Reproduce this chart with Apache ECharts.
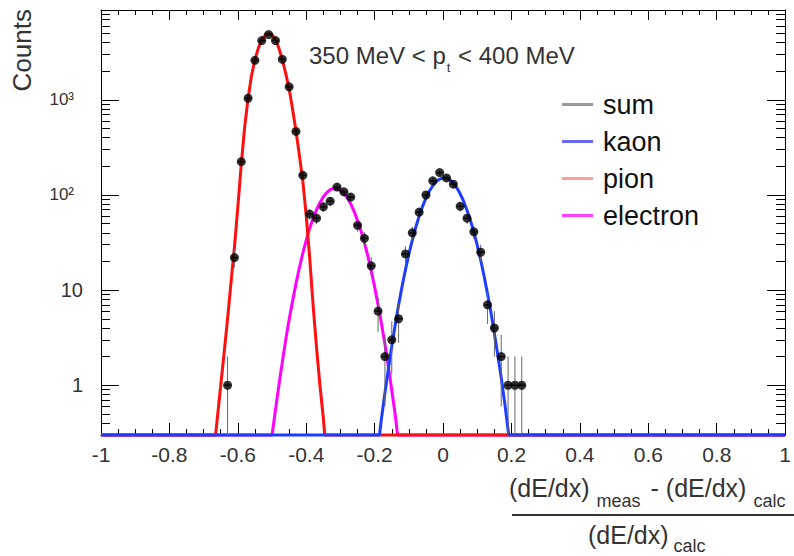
<!DOCTYPE html>
<html>
<head>
<meta charset="utf-8">
<script src="https://cdn.jsdelivr.net/npm/echarts@6/dist/echarts.min.js"></script>
<style>
  html, body { margin: 0; padding: 0; background: #ffffff; }
  #chart { width: 794px; height: 556px; }
</style>
</head>
<body>
<div id="chart"></div>
<script>
// ---------- data ----------
const binCenters = [-0.63,-0.61,-0.59,-0.57,-0.55,-0.53,-0.51,-0.49,-0.47,-0.45,-0.43,-0.41,-0.39,-0.37,-0.35,-0.33,-0.31,-0.29,-0.27,-0.25,-0.23,-0.21,-0.19,-0.17,-0.15,-0.13,-0.11,-0.09,-0.07,-0.05,-0.03,-0.01,0.01,0.03,0.05,0.07,0.09,0.11,0.13,0.15,0.17,0.19,0.21,0.23];
const counts     = [1,22,224,1040,2600,4200,4850,4200,2670,1370,466,161,63,57,75,86,121,108,95,48,35,18,6,2,3,5,24,40,66,100,141,172,151,130,76,57,41,25,7,4,2,1,1,1];
const countErrs  = [1,4.7,15,32,51,65,70,65,52,37,22,13,8,7.5,8.7,9.3,11,10.4,9.7,6.9,5.9,4.2,2.4,1.4,1.7,2.2,4.9,6.3,8.1,10,11.9,13.1,12.3,11.4,8.7,7.5,6.4,5,2.6,2,1.4,1,1,1];
const binHalfWidth = 0.01;

const pionX = [-1,-0.665,-0.65,-0.64,-0.63,-0.62,-0.61,-0.60,-0.59,-0.58,-0.57,-0.56,-0.55,-0.54,-0.53,-0.52,-0.51,-0.50,-0.49,-0.48,-0.47,-0.46,-0.45,-0.44,-0.43,-0.42,-0.41,-0.40,-0.39,-0.38,-0.37,-0.36,-0.35,-0.346,1];
const pionY = [0.3,0.3,1,2.2,5,12,28,75,210,520,1040,1800,2650,3500,4250,4800,5000,4850,4300,3500,2650,1900,1300,800,470,260,140,60,22,7,2.5,1,0.45,0.3,0.3];

const electronX = [-1,-0.50,-0.49,-0.48,-0.47,-0.46,-0.45,-0.44,-0.43,-0.42,-0.41,-0.40,-0.39,-0.38,-0.37,-0.36,-0.35,-0.34,-0.33,-0.32,-0.31,-0.30,-0.29,-0.28,-0.27,-0.26,-0.25,-0.24,-0.23,-0.22,-0.21,-0.20,-0.19,-0.18,-0.17,-0.16,-0.15,-0.14,-0.133,1];
const electronY = [0.3,0.3,0.55,1.0,1.75,3.0,4.9,7.7,11.7,17.3,24.5,33.6,44.6,57,70,83,96,106,114,117,117,112,104,93.5,81,67,54,42,31.6,22.9,16,10.8,7.0,4.4,2.7,1.57,0.89,0.49,0.3,0.3];

const kaonX = [-1,-0.186,-0.18,-0.17,-0.16,-0.15,-0.14,-0.13,-0.12,-0.11,-0.10,-0.09,-0.08,-0.07,-0.06,-0.05,-0.04,-0.03,-0.02,-0.01,0.00,0.01,0.02,0.03,0.04,0.05,0.06,0.07,0.08,0.09,0.10,0.11,0.12,0.13,0.14,0.15,0.16,0.17,0.18,0.192,1];
const kaonY = [0.3,0.3,0.45,0.83,1.48,2.57,4.3,7.0,10.9,16.4,23.9,33.6,45.6,59.8,75.9,93,110,125,138,147,151,150,144,133,119,103,86,69,54,40.5,29.5,20.6,14.0,9.1,5.8,3.5,2.07,1.2,0.66,0.3,0.3];

const sumX = [];
const sumY = [];

const legendNames = ['sum', 'kaon', 'pion', 'electron'];
const yMajorTicks = [1, 10, 100, 1000];
const yTickLabels = ['1', '10', '10²', '10³'];
const yMinorTicks = [0.4,0.5,0.6,0.7,0.8,0.9,2,3,4,5,6,7,8,9,20,30,40,50,60,70,80,90,200,300,400,500,600,700,800,900,2000,3000,4000,5000,6000,7000,8000];
const xMin = -1, xMax = 1, xStep = 0.2;
const yMin = 0.3, yMax = 8800;
const titleText = '350 MeV < p{sub|t} < 400 MeV';
const yTitle = 'Counts';
const xTitleNum = '(dE/dx){sub|meas} - (dE/dx){sub|calc}';
const xTitleDen = '(dE/dx){sub|calc}';

// ---------- chart ----------
const FONT = 'Liberation Sans';
const zip = (xs, ys) => xs.map((x, i) => [x, ys[i]]);

const chart = echarts.init(document.getElementById('chart'), null, { renderer: 'svg' });

function xAxisDef(pos, tickLen, showLabel) {
  return {
    type: 'value', position: pos, min: xMin, max: xMax, interval: xStep,
    axisLine: { show: true, onZero: false, lineStyle: { color: '#000', width: 1 } },
    axisTick: { show: true, inside: true, length: tickLen, lineStyle: { color: '#000', width: 1 } },
    minorTick: { show: true, splitNumber: 4, length: tickLen / 2, lineStyle: { color: '#000', width: 1 } },
    axisLabel: { show: showLabel, fontSize: 21, fontFamily: FONT, color: '#333', margin: 9 },
    splitLine: { show: false }, minorSplitLine: { show: false }
  };
}

function yAxisDef(pos, ticks, tickLen, showLine, showLabel) {
  return {
    type: 'log', logBase: 10, position: pos, min: yMin, max: yMax,
    axisLine: { show: showLine, onZero: false, lineStyle: { color: '#000', width: 1 } },
    axisTick: { show: true, inside: true, length: tickLen, customValues: ticks, lineStyle: { color: '#000', width: 1 } },
    axisLabel: {
      show: showLabel, customValues: ticks, margin: 18, color: '#333', fontFamily: FONT, fontSize: 20,
      formatter: function (v) {
        const i = yMajorTicks.indexOf(Math.round(v));
        const s = i >= 0 ? yTickLabels[i] : '';
        return /[²³]/.test(s) ? '{e|' + s + '}' : s;
      },
      rich: { e: { fontSize: 17, fontFamily: FONT, color: '#333', padding: [0, 9, 0, 0] } }
    },
    splitLine: { show: false }, minorTick: { show: false }
  };
}

function curve(name, xs, ys, color, z) {
  return {
    name: name, type: 'line', data: zip(xs, ys), xAxisIndex: 0, yAxisIndex: 0,
    showSymbol: false, symbol: 'none', clip: false, z: z,
    lineStyle: { color: color, width: 3 }, itemStyle: { color: color },
    emphasis: { disabled: true }
  };
}

const option = {
  animation: false,
  backgroundColor: '#ffffff',
  grid: { left: 101, top: 10, width: 689, height: 425, containLabel: false },
  title: {
    text: titleText, left: 309, top: 36, padding: 0,
    textStyle: {
      fontSize: 24, fontWeight: 'normal', fontFamily: FONT, color: '#333',
      rich: { sub: { fontSize: 13, fontFamily: FONT, color: '#333', padding: [25, 1, 0, 1] } }
    }
  },
  legend: {
    data: [
      { name: legendNames[0], itemStyle: { color: '#9a9a9a' } },
      { name: legendNames[1], itemStyle: { color: '#6868ff' } },
      { name: legendNames[2], itemStyle: { color: '#ff9c9c' } },
      { name: legendNames[3], itemStyle: { color: '#ff40ff' } }
    ],
    orient: 'vertical', left: 562, top: 91, padding: 0,
    icon: 'rect', itemWidth: 31, itemHeight: 3, itemGap: 10,
    selectedMode: false,
    textStyle: { fontSize: 27, fontFamily: FONT, color: '#111', padding: [0, 0, 0, 5] }
  },
  xAxis: [ xAxisDef('bottom', 12, true), xAxisDef('top', 10, false) ],
  yAxis: [
    yAxisDef('left', yMajorTicks, 18, true, true),
    yAxisDef('right', yMajorTicks, 18, true, false),
    yAxisDef('left', yMinorTicks, 9, false, false),
    yAxisDef('right', yMinorTicks, 9, false, false)
  ],
  graphic: [
    { type: 'text', x: 22, y: 9, rotation: Math.PI / 2,
      style: { text: yTitle, fontSize: 26, fontFamily: FONT, fill: '#333', align: 'right', verticalAlign: 'middle' } },
    { type: 'text', x: 509, y: 488,
      style: { text: xTitleNum, fontSize: 25, fontFamily: FONT, fill: '#333', align: 'left', verticalAlign: 'middle',
        rich: { sub: { fontSize: 18, fontFamily: FONT, fill: '#333', padding: [26, 3, 0, 7] } } } },
    { type: 'line', shape: { x1: 512, y1: 515, x2: 794, y2: 515 }, style: { stroke: '#333', lineWidth: 2 } },
    { type: 'text', x: 588, y: 535,
      style: { text: xTitleDen, fontSize: 25, fontFamily: FONT, fill: '#333', align: 'left', verticalAlign: 'middle',
        rich: { sub: { fontSize: 18, fontFamily: FONT, fill: '#333', padding: [22, 1, 0, 5] } } } }
  ],
  series: [
    curve(legendNames[0], sumX, sumY, '#888888', 1),
    curve(legendNames[3], electronX, electronY, '#ff00ff', 2),
    curve(legendNames[2], pionX, pionY, '#ff1010', 3),
    curve(legendNames[1], kaonX, kaonY, '#1e3cff', 4),
    {
      name: 'errors', type: 'custom', xAxisIndex: 0, yAxisIndex: 0, z: 5,
      data: binCenters.map((x, i) => [x, counts[i], countErrs[i]]),
      encode: { x: 0, y: 1 },
      renderItem: function (params, api) {
        const x = api.value(0), y = api.value(1), e = api.value(2);
        const top = api.coord([x, y + e]);
        const bot = api.coord([x, Math.max(y - e, yMin)]);
        const l = api.coord([x - binHalfWidth, y]);
        const r = api.coord([x + binHalfWidth, y]);
        return {
          type: 'group',
          children: [
            { type: 'line', shape: { x1: top[0], y1: top[1], x2: bot[0], y2: bot[1] }, style: { stroke: '#666', lineWidth: 1 } },
            { type: 'line', shape: { x1: l[0], y1: l[1], x2: r[0], y2: r[1] }, style: { stroke: '#222', lineWidth: 1.5 } }
          ]
        };
      }
    },
    {
      name: 'data', type: 'scatter', xAxisIndex: 0, yAxisIndex: 0, z: 6,
      data: zip(binCenters, counts), symbol: 'circle', symbolSize: 9,
      itemStyle: { color: '#000' }, emphasis: { disabled: true }
    }
  ]
};

chart.setOption(option);
</script>
</body>
</html>
